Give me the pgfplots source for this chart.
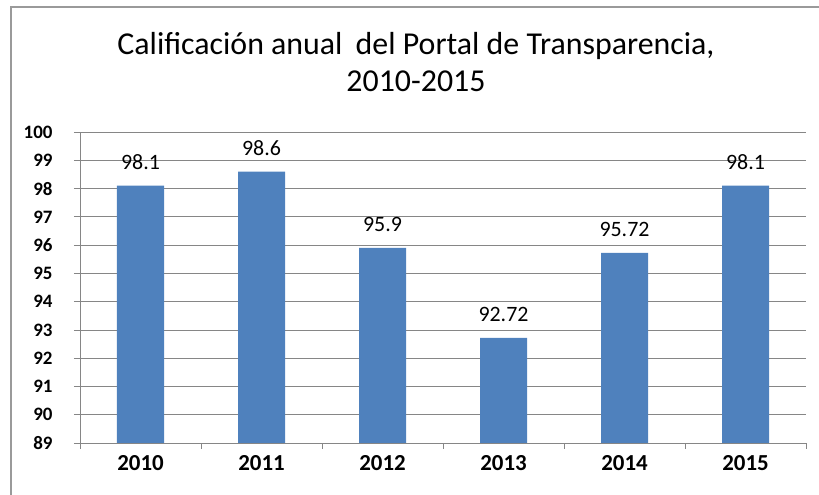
\documentclass[border=0pt]{standalone}
\usepackage{fontspec}
\setmainfont{Carlito}
\usepackage{pgfplots}
\pgfplotsset{compat=1.18}
\definecolor{barblue}{HTML}{4F81BD}
\definecolor{gridgray}{HTML}{868686}
\definecolor{framegray}{HTML}{9A9A9A}

\begin{document}
\begin{tikzpicture}[x=1bp,y=1bp]
% picture px (X,Y) -> (X-80, 443-Y)
\path[use as bounding box] (-80,-52) rectangle (739,443);
\draw[framegray, line width=2bp] (-69,-52) -- (-69,436) -- (739,436);
\begin{axis}[
  at={(0,0)}, anchor=south west,
  scale only axis, width=726bp, height=311bp,
  ymin=89, ymax=100, ytick={89,...,100},
  xmin=-0.5, xmax=5.5,
  xtick={-0.5,0.5,...,5.5}, xticklabels={},
  extra x ticks={0,...,5},
  extra x tick labels={2010,2011,2012,2013,2014,2015},
  extra x tick style={major tick length=0pt},
  axis x line*=bottom, axis y line*=left,
  axis line style={gridgray, line width=0.8bp, -},
  tick style={gridgray, line width=0.8bp},
  tick align=outside, major tick length=6bp,
  ymajorgrids, grid style={gridgray, line width=0.8bp},
  y tick label style={font=\bfseries\fontsize{19}{19}\selectfont, xshift=-18bp},
  x tick label style={font=\bfseries\fontsize{23}{23}\selectfont, yshift=-9bp},
  /pgf/number format/assume math mode=true,
  ybar, bar width=47bp,
]
\addplot[fill=barblue, draw=none,
  nodes near coords,
  nodes near coords style={font=\fontsize{22}{22}\selectfont, inner sep=0pt, anchor=south, yshift=16bp}]
  coordinates {(0,98.1) (1,98.6) (2,95.9) (3,92.72) (4,95.72) (5,98.1)};
\end{axis}
\node[font=\fontsize{32}{32}\selectfont] at (336,397) {Calificación anual\hspace{6bp} del Portal de Transparencia,};
\node[font=\fontsize{32}{32}\selectfont] at (336,362) {2010-2015};
\end{tikzpicture}
\end{document}
